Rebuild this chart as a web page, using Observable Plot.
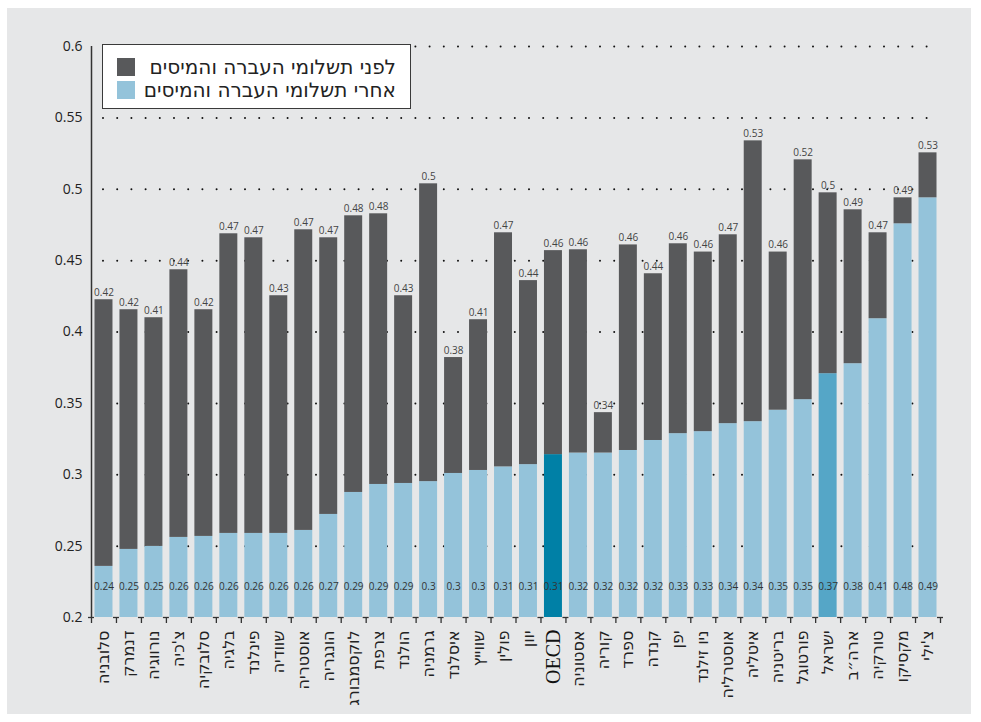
<!DOCTYPE html>
<html>
<head>
<meta charset="utf-8">
<script src="https://cdn.jsdelivr.net/npm/d3@7"></script>
<script src="https://cdn.jsdelivr.net/npm/@observablehq/plot@0.6"></script>
<style>
  html, body { margin: 0; padding: 0; background: #ffffff; }
  #panel { position: absolute; left: 7px; top: 8px; width: 964px; height: 706px; background: #e6e7e8; overflow: hidden; }
  #legend { position: absolute; left: 95px; top: 36px; width: 307px; height: 63px; background: #ffffff; border: 1px solid #3a3a3a; font-family: "DejaVu Sans", sans-serif; font-size: 20px; color: #222; }
  .row { position: absolute; left: 14px; right: 14px; height: 23px; display: flex; flex-direction: row-reverse; justify-content: space-between; align-items: center; }
  .sw { width: 18px; height: 18px; display: inline-block; }
</style>
</head>
<body>
<div id="panel">
  <div id="chart"></div>
  <div id="legend"></div>
</div>
<script>
const countries = ["סלובניה","דנמרק","נורווגיה","צ'כיה","סלובקיה","בלגיה","פינלנד","שוודיה","אוסטריה","הונגריה","לוקסמבורג","צרפת","הולנד","גרמניה","איסלנד","שווייץ","פולין","יוון","OECD","אסטוניה","קוריה","ספרד","קנדה","יפן","ניו זילנד","אוסטרליה","איטליה","בריטניה","פורטוגל","ישראל","ארה״ב","טורקיה","מקסיקו","צ'ילי"];
const beforeValues = [0.4226,0.4156,0.4100,0.4436,0.4156,0.4688,0.4660,0.4254,0.4716,0.4660,0.4814,0.4828,0.4254,0.5038,0.3821,0.4086,0.4695,0.4360,0.4570,0.4576,0.3435,0.4610,0.4408,0.4618,0.4560,0.4681,0.5339,0.4560,0.5206,0.4975,0.4856,0.4695,0.4940,0.5255];
const afterValues = [0.2358,0.2477,0.2498,0.2561,0.2568,0.2589,0.2589,0.2589,0.2610,0.2722,0.2876,0.2932,0.2939,0.2952,0.3009,0.3030,0.3055,0.3071,0.3141,0.3152,0.3152,0.3170,0.3240,0.3288,0.3302,0.3358,0.3372,0.3452,0.3526,0.3708,0.3778,0.4093,0.4758,0.4940];
const yTicks = [0.2,0.25,0.3,0.35,0.4,0.45,0.5,0.55,0.6];
const seriesNames = ["לפני תשלומי העברה והמיסים","אחרי תשלומי העברה והמיסים"];

const DARK = "#58595b", LIGHT = "#94c3da", OECD_C = "#0080a6", ISR_C = "#55a6c7";
const data = countries.map((c, i) => ({country: c, before: beforeValues[i], after: afterValues[i]}));
const yMin = yTicks[0], yMax = yTicks[yTicks.length - 1];
const W = 964, H = 706, ML = 84, MR = 31, MT = 38, MB = 97;
const step = (W - ML - MR) / countries.length;
const bw = step * 0.72;
const fmt = d3.format(".2~f");
const last = countries[countries.length - 1];
const sans = "'Open Sans', 'DejaVu Sans', sans-serif";
const heb = "'DejaVu Sans', sans-serif";

const afterFill = d => d.country === "OECD" ? OECD_C : d.country === "ישראל" ? ISR_C : LIGHT;

const chart = Plot.plot({
  width: W, height: H,
  marginLeft: ML, marginRight: MR, marginTop: MT, marginBottom: MB,
  style: {background: "transparent", fontFamily: sans, color: "#222", overflow: "visible"},
  x: {domain: countries, paddingInner: 0.28, paddingOuter: 0.14, axis: null},
  y: {domain: [yMin, yMax], axis: null},
  color: {type: "identity"},
  marks: [
    Plot.ruleY(yTicks.slice(1), {stroke: "#111", strokeWidth: 2, strokeDasharray: "0,14.2", strokeLinecap: "round", strokeDashoffset: -12}),
    Plot.barY(data, {x: "country", y1: () => yMin, y2: "after", fill: afterFill}),
    Plot.barY(data, {x: "country", y1: "after", y2: "before", fill: DARK}),
    Plot.text(data, {x: "country", y: "before", text: d => fmt(d.before), dy: -4, lineAnchor: "bottom", fontSize: 10, fill: "#444"}),
    Plot.text(data, {x: "country", frameAnchor: "bottom", text: d => fmt(d.after), dy: -28, fontSize: 10, fill: "#333"}),
    Plot.ruleX([countries[0]], {x: d => d, dx: -step / 2, y1: () => yMin, y2: () => yMax, stroke: "#333", strokeWidth: 1.5}),
    Plot.axisX({ticks: countries, tickSize: 6, tickFormat: () => "", label: null, dx: -step / 2, stroke: "#333", strokeWidth: 1.3}),
    Plot.axisX({ticks: [last], tickSize: 6, tickFormat: () => "", label: null, dx: step / 2, stroke: "#333", strokeWidth: 1.3}),
    Plot.tickY(countries, {x: d => d, y: () => yMin, dx: -step / 2, insetLeft: bw / 2 - 3, insetRight: bw / 2 - 3, stroke: "#333", strokeWidth: 1.3}),
    Plot.tickY([last], {x: d => d, y: () => yMin, dx: step / 2, insetLeft: bw / 2 - 3, insetRight: bw / 2 - 3, stroke: "#333", strokeWidth: 1.3}),
    Plot.axisY({ticks: yTicks, tickSize: 0, tickPadding: 9, fontSize: 14, tickFormat: d3.format("~g"), label: null, fill: "#222"}),
    Plot.text(countries.filter(c => c !== "OECD"), {x: d => d, text: d => d, frameAnchor: "bottom", rotate: -90, textAnchor: "end", lineAnchor: "middle", dy: 13, fontSize: 16, fontFamily: heb, fill: "#222"}),
    Plot.text(countries.filter(c => c === "OECD"), {x: d => d, text: d => d, frameAnchor: "bottom", rotate: -90, textAnchor: "end", lineAnchor: "middle", dy: 12, fontSize: 20, fontFamily: "'Liberation Serif', serif", fill: "#111"})
  ]
});
document.getElementById("chart").appendChild(chart);

const legend = document.getElementById("legend");
[DARK, LIGHT].forEach((col, i) => {
  const row = document.createElement("div");
  row.className = "row";
  row.style.top = (10 + i * 23) + "px";
  const sw = document.createElement("span");
  sw.className = "sw";
  sw.style.background = col;
  const tx = document.createElement("span");
  tx.dir = "rtl";
  tx.textContent = seriesNames[i];
  row.appendChild(tx);
  row.appendChild(sw);
  legend.appendChild(row);
});
</script>
</body>
</html>
